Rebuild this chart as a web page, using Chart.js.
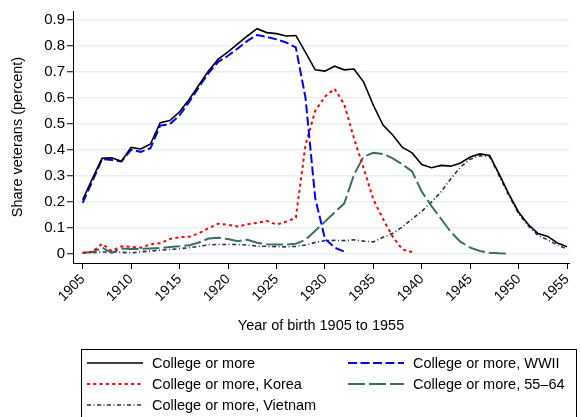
<!DOCTYPE html>
<html>
<head>
<meta charset="utf-8">
<script src="https://cdn.jsdelivr.net/npm/chart.js@4.4.1/dist/chart.umd.min.js"></script>
<style>
  html, body { margin: 0; padding: 0; background: #fff; }
  #wrap { width: 581px; height: 417px; }
</style>
</head>
<body>
<div id="wrap"><canvas id="vetChart" width="581" height="417"></canvas></div>
<script>
// birth years on the x axis
const years = [1905, 1906, 1907, 1908, 1909, 1910, 1911, 1912, 1913, 1914,
  1915, 1916, 1917, 1918, 1919, 1920, 1921, 1922, 1923, 1924,
  1925, 1926, 1927, 1928, 1929, 1930, 1931, 1932, 1933, 1934,
  1935, 1936, 1937, 1938, 1939, 1940, 1941, 1942, 1943, 1944,
  1945, 1946, 1947, 1948, 1949, 1950, 1951, 1952, 1953, 1954, 1955]
const xTicks = [1905, 1910, 1915, 1920, 1925, 1930, 1935, 1940, 1945, 1950, 1955]
const yTicks = [0, 0.1, 0.2, 0.3, 0.4, 0.5, 0.6, 0.7, 0.8, 0.9]

// share of veterans, college or more (1905-1955)
const collegeAll = [0.209, 0.29, 0.368, 0.37, 0.357, 0.41, 0.404, 0.423, 0.505, 0.513,
  0.547, 0.595, 0.65, 0.705, 0.749, 0.777, 0.808, 0.838, 0.866, 0.851,
  0.847, 0.838, 0.84, 0.775, 0.708, 0.703, 0.722, 0.708, 0.711, 0.661,
  0.572, 0.496, 0.458, 0.41, 0.389, 0.344, 0.332, 0.341, 0.338, 0.35,
  0.373, 0.385, 0.379, 0.306, 0.23, 0.161, 0.114, 0.079, 0.068, 0.043, 0.028]
// WWII (1905-1932)
const collegeWWII = [0.197, 0.28, 0.365, 0.362, 0.356, 0.401, 0.393, 0.407, 0.494, 0.499,
  0.534, 0.585, 0.642, 0.696, 0.739, 0.762, 0.79, 0.819, 0.842, 0.834,
  0.825, 0.813, 0.794, 0.6, 0.215, 0.06, 0.025, 0.01]
// Korea (1905-1939)
const collegeKorea = [0.005, 0.009, 0.04, 0.012, 0.03, 0.028, 0.025, 0.038, 0.042, 0.058,
  0.065, 0.067, 0.08, 0.1, 0.117, 0.113, 0.106, 0.115, 0.12, 0.128,
  0.114, 0.125, 0.14, 0.42, 0.55, 0.605, 0.635, 0.575, 0.445, 0.33,
  0.21, 0.135, 0.067, 0.018, 0.008]
// 55-64 (1905-1949)
const college5564 = [0.005, 0.008, 0.025, 0.005, 0.022, 0.02, 0.02, 0.022, 0.024, 0.027,
  0.03, 0.034, 0.045, 0.06, 0.063, 0.058, 0.05, 0.055, 0.044, 0.038,
  0.037, 0.037, 0.04, 0.055, 0.09, 0.125, 0.16, 0.195, 0.305, 0.375,
  0.389, 0.385, 0.368, 0.345, 0.318, 0.24, 0.185, 0.135, 0.085, 0.047,
  0.025, 0.012, 0.005, 0.003, 0.002]
// Vietnam (1905-1955)
const collegeVietnam = [0.005, 0.006, 0.008, 0.009, 0.007, 0.005, 0.009, 0.012, 0.015, 0.018,
  0.021, 0.025, 0.03, 0.036, 0.037, 0.037, 0.037, 0.035, 0.031, 0.03,
  0.029, 0.028, 0.03, 0.035, 0.045, 0.052, 0.053, 0.052, 0.055, 0.05,
  0.047, 0.065, 0.08, 0.105, 0.135, 0.165, 0.2, 0.24, 0.29, 0.335,
  0.365, 0.378, 0.375, 0.3, 0.225, 0.155, 0.108, 0.072, 0.055, 0.035, 0.02]

function toPoints(vals) {
  return vals.map((v, i) => ({ x: years[i], y: v }))
}

const FONT = '"Liberation Sans", Arial, sans-serif'

// legend drawn as a boxed 2-column grid like the Stata one
const boxLegend = {
  id: "boxLegend",
  afterDraw(chart) {
    const ctx = chart.ctx
    ctx.save()
    ctx.strokeStyle = "#000"
    ctx.lineWidth = 1
    ctx.setLineDash([])
    ctx.strokeRect(81.5, 349.5, 495, 90)
    chart.data.datasets.forEach((ds, i) => {
      const col = i % 2
      const row = Math.floor(i / 2)
      const x0 = col ? 348 : 87
      const y = 363 + row * 21
      ctx.strokeStyle = ds.borderColor
      ctx.lineWidth = ds.borderWidth
      ctx.setLineDash(ds.borderDash || [])
      ctx.beginPath()
      ctx.moveTo(x0, y)
      ctx.lineTo(x0 + 56, y)
      ctx.stroke()
      ctx.setLineDash([])
      ctx.fillStyle = "#000"
      ctx.font = "14.5px " + FONT
      ctx.textBaseline = "middle"
      ctx.textAlign = "left"
      ctx.fillText(ds.label, x0 + 65, y + 1)
    })
    ctx.restore()
  },
}

const ctx = document.getElementById("vetChart").getContext("2d")
new Chart(ctx, {
  type: "line",
  data: {
    datasets: [
      { label: "College or more", data: toPoints(collegeAll), borderColor: "#000000", borderWidth: 1.6 },
      { label: "College or more, WWII", data: toPoints(collegeWWII), borderColor: "#0000ff", borderWidth: 2, borderDash: [9, 3.5] },
      { label: "College or more, Korea", data: toPoints(collegeKorea), borderColor: "#ff0000", borderWidth: 2, borderDash: [3, 3.3] },
      { label: "College or more, 55\u201364", data: toPoints(college5564), borderColor: "#3a6f66", borderWidth: 2, borderDash: [17, 4] },
      { label: "College or more, Vietnam", data: toPoints(collegeVietnam), borderColor: "#22305e", borderWidth: 1.6, borderDash: [4, 2.5, 1, 2.5] },
    ],
  },
  options: {
    responsive: false,
    animation: false,
    devicePixelRatio: 1,
    layout: { padding: { left: 0, right: 0, top: 8, bottom: 79 } },
    elements: { point: { radius: 0 }, line: { tension: 0, fill: false } },
    plugins: { legend: { display: false }, tooltip: { enabled: false } },
    scales: {
      x: {
        type: "linear",
        min: 1904,
        max: 1955.2,
        afterBuildTicks: (scale) => { scale.ticks = xTicks.map((v) => ({ value: v })) },
        afterFit: (scale) => { scale.height = 75 },
        ticks: {
          autoSkip: false,
          minRotation: 45,
          maxRotation: 45,
          padding: 2,
          color: "#000",
          font: { family: FONT, size: 14 },
          callback: (v) => String(v),
        },
        grid: { drawOnChartArea: false, drawTicks: true, tickLength: 6, color: "#000", lineWidth: 1 },
        border: { display: true, color: "#000", width: 1 },
        title: {
          display: true,
          text: "Year of birth 1905 to 1955",
          color: "#000",
          font: { family: FONT, size: 14.5 },
          padding: { top: 0, bottom: 3 },
        },
      },
      y: {
        min: -0.034,
        max: 0.934,
        afterBuildTicks: (scale) => { scale.ticks = yTicks.map((v) => ({ value: v })) },
        afterFit: (scale) => { scale.width = 73 },
        ticks: {
          padding: 2,
          color: "#000",
          font: { family: FONT, size: 15 },
          callback: (v) => (v === 0 ? "0" : v.toFixed(1)),
        },
        grid: { color: "#e8eff2", lineWidth: 1.5, tickLength: 6, tickColor: "#000", tickWidth: 1 },
        border: { display: true, color: "#000", width: 1 },
        title: {
          display: true,
          text: "Share veterans (percent)",
          color: "#000",
          font: { family: FONT, size: 14.5 },
          padding: { top: 9, bottom: 0 },
        },
      },
    },
  },
  plugins: [boxLegend],
})
</script>
</body>
</html>
